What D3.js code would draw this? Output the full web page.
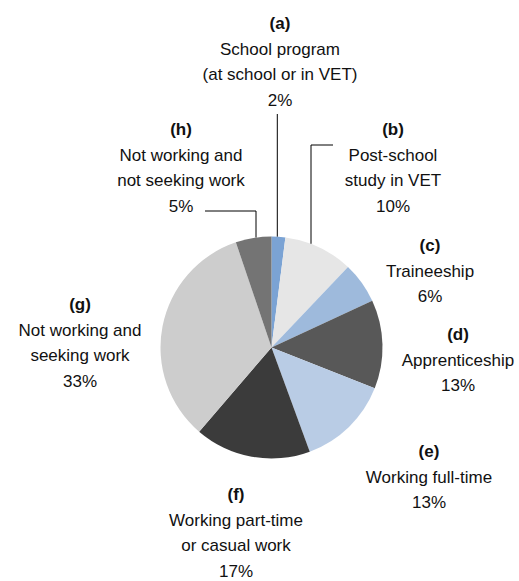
<!DOCTYPE html>
<html>
<head>
<meta charset="utf-8">
<script src="https://cdn.jsdelivr.net/npm/d3@7"></script>
<style>
  body { margin: 0; background: #fff; overflow: hidden; }
  text { font-family: "Liberation Sans", Arial, sans-serif; font-size: 17px; fill: #111; }
  .key { font-weight: bold; }
</style>
</head>
<body>
<div id="chart"></div>
<script>
// slice data (shares in per cent)
const keys = ["(a)", "(b)", "(c)", "(d)", "(e)", "(f)", "(g)", "(h)"];
const names = [
  ["School program", "(at school or in VET)"],
  ["Post-school", "study in VET"],
  ["Traineeship"],
  ["Apprenticeship"],
  ["Working full-time"],
  ["Working part-time", "or casual work"],
  ["Not working and", "seeking work"],
  ["Not working and", "not seeking work"]
];
const values = [2.0, 10.1, 6.0, 12.9, 13.4, 16.9, 33.5, 5.2];
const shown = ["2%", "10%", "6%", "13%", "13%", "17%", "33%", "5%"];
const colors = ["#7ba3d4", "#e6e6e6", "#9ebadc", "#585858", "#b9cce5", "#3b3b3b", "#cdcdcd", "#747474"];

const W = 519, H = 581;
const cx = 271.5, cy = 347.5, R = 111;
const lineH = 25.6;

// label block centres (x, y of first line)
const labelPos = [[280, 23], [393, 129], [430, 245], [458, 334], [429, 451], [236, 494], [80, 304], [181, 129]];

const svg = d3.select("#chart").append("svg")
    .attr("width", W)
    .attr("height", H);

const pie = d3.pie().sort(null).value(d => d);
const arc = d3.arc().innerRadius(0).outerRadius(R);
const arcs = pie(values);

const g = svg.append("g").attr("transform", "translate(" + cx + "," + cy + ")");
g.selectAll("path")
  .data(arcs)
  .enter().append("path")
  .attr("d", arc)
  .attr("fill", (d, i) => colors[i]);

// labels
arcs.forEach((d, i) => {
  let lines = [keys[i]].concat(names[i]).concat([shown[i]]);
  let t = svg.append("text")
      .attr("text-anchor", "middle")
      .attr("x", labelPos[i][0])
      .attr("y", labelPos[i][1]);
  lines.forEach((s, j) => {
    t.append("tspan")
      .attr("x", labelPos[i][0])
      .attr("y", labelPos[i][1] + j * lineH)
      .attr("dy", "0.35em")
      .attr("class", j == 0 ? "key" : null)
      .text(s);
  });
});

// leader lines: from label, elbow over the slice, down to the rim
// [slice index, start x, start y, rim x]
const leaders = [
  [0, 277.3, 114, 277.3],
  [1, 333, 145, 311],
  [7, 205, 211, 256]
];
function rimY(x) {
  return cy - Math.sqrt(R * R - (x - cx) * (x - cx));
}
leaders.forEach(l => {
  let pts = [[l[1], l[2]], [l[3], l[2]], [l[3], rimY(l[3])]];
  svg.append("path")
    .attr("d", d3.line()(pts))
    .attr("fill", "none")
    .attr("stroke", "#000")
    .attr("stroke-width", 1);
});
</script>
</body>
</html>
